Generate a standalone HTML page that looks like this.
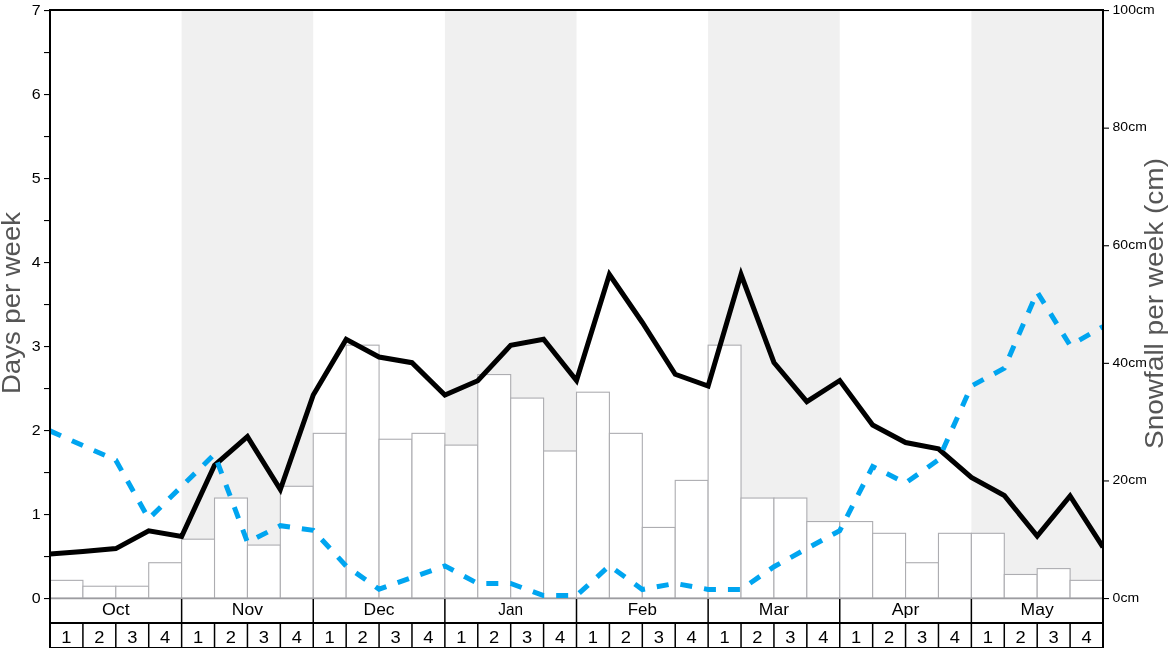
<!DOCTYPE html>
<html><head><meta charset="utf-8"><title>Snow chart</title>
<style>html,body{margin:0;padding:0;background:#fff;overflow:hidden}body{width:1168px;height:648px;font-family:"Liberation Sans",sans-serif}</style></head>
<body>
<svg width="1168" height="648" viewBox="0 0 1168 648" style="display:block;will-change:transform">
<defs><clipPath id="plot"><rect x="50.00" y="10.00" width="1053.00" height="588.00"/></clipPath></defs>
<rect x="0" y="0" width="1168" height="648" fill="#ffffff"/>
<rect x="181.62" y="10.00" width="131.62" height="588.00" fill="#f0f0f0"/>
<rect x="444.88" y="10.00" width="131.62" height="588.00" fill="#f0f0f0"/>
<rect x="708.12" y="10.00" width="131.62" height="588.00" fill="#f0f0f0"/>
<rect x="971.38" y="10.00" width="131.62" height="588.00" fill="#f0f0f0"/>
<rect x="50.00" y="580.36" width="32.91" height="17.64" fill="#ffffff" stroke="#adadb1" stroke-width="1.1"/>
<rect x="82.91" y="586.24" width="32.91" height="11.76" fill="#ffffff" stroke="#adadb1" stroke-width="1.1"/>
<rect x="115.81" y="586.24" width="32.91" height="11.76" fill="#ffffff" stroke="#adadb1" stroke-width="1.1"/>
<rect x="148.72" y="562.72" width="32.91" height="35.28" fill="#ffffff" stroke="#adadb1" stroke-width="1.1"/>
<rect x="181.62" y="539.20" width="32.91" height="58.80" fill="#ffffff" stroke="#adadb1" stroke-width="1.1"/>
<rect x="214.53" y="498.04" width="32.91" height="99.96" fill="#ffffff" stroke="#adadb1" stroke-width="1.1"/>
<rect x="247.44" y="545.08" width="32.91" height="52.92" fill="#ffffff" stroke="#adadb1" stroke-width="1.1"/>
<rect x="280.34" y="486.28" width="32.91" height="111.72" fill="#ffffff" stroke="#adadb1" stroke-width="1.1"/>
<rect x="313.25" y="433.36" width="32.91" height="164.64" fill="#ffffff" stroke="#adadb1" stroke-width="1.1"/>
<rect x="346.16" y="345.16" width="32.91" height="252.84" fill="#ffffff" stroke="#adadb1" stroke-width="1.1"/>
<rect x="379.06" y="439.24" width="32.91" height="158.76" fill="#ffffff" stroke="#adadb1" stroke-width="1.1"/>
<rect x="411.97" y="433.36" width="32.91" height="164.64" fill="#ffffff" stroke="#adadb1" stroke-width="1.1"/>
<rect x="444.88" y="445.12" width="32.91" height="152.88" fill="#ffffff" stroke="#adadb1" stroke-width="1.1"/>
<rect x="477.78" y="374.56" width="32.91" height="223.44" fill="#ffffff" stroke="#adadb1" stroke-width="1.1"/>
<rect x="510.69" y="398.08" width="32.91" height="199.92" fill="#ffffff" stroke="#adadb1" stroke-width="1.1"/>
<rect x="543.59" y="451.00" width="32.91" height="147.00" fill="#ffffff" stroke="#adadb1" stroke-width="1.1"/>
<rect x="576.50" y="392.20" width="32.91" height="205.80" fill="#ffffff" stroke="#adadb1" stroke-width="1.1"/>
<rect x="609.41" y="433.36" width="32.91" height="164.64" fill="#ffffff" stroke="#adadb1" stroke-width="1.1"/>
<rect x="642.31" y="527.44" width="32.91" height="70.56" fill="#ffffff" stroke="#adadb1" stroke-width="1.1"/>
<rect x="675.22" y="480.40" width="32.91" height="117.60" fill="#ffffff" stroke="#adadb1" stroke-width="1.1"/>
<rect x="708.12" y="345.16" width="32.91" height="252.84" fill="#ffffff" stroke="#adadb1" stroke-width="1.1"/>
<rect x="741.03" y="498.04" width="32.91" height="99.96" fill="#ffffff" stroke="#adadb1" stroke-width="1.1"/>
<rect x="773.94" y="498.04" width="32.91" height="99.96" fill="#ffffff" stroke="#adadb1" stroke-width="1.1"/>
<rect x="806.84" y="521.56" width="32.91" height="76.44" fill="#ffffff" stroke="#adadb1" stroke-width="1.1"/>
<rect x="839.75" y="521.56" width="32.91" height="76.44" fill="#ffffff" stroke="#adadb1" stroke-width="1.1"/>
<rect x="872.66" y="533.32" width="32.91" height="64.68" fill="#ffffff" stroke="#adadb1" stroke-width="1.1"/>
<rect x="905.56" y="562.72" width="32.91" height="35.28" fill="#ffffff" stroke="#adadb1" stroke-width="1.1"/>
<rect x="938.47" y="533.32" width="32.91" height="64.68" fill="#ffffff" stroke="#adadb1" stroke-width="1.1"/>
<rect x="971.38" y="533.32" width="32.91" height="64.68" fill="#ffffff" stroke="#adadb1" stroke-width="1.1"/>
<rect x="1004.28" y="574.48" width="32.91" height="23.52" fill="#ffffff" stroke="#adadb1" stroke-width="1.1"/>
<rect x="1037.19" y="568.60" width="32.91" height="29.40" fill="#ffffff" stroke="#adadb1" stroke-width="1.1"/>
<rect x="1070.09" y="580.36" width="32.91" height="17.64" fill="#ffffff" stroke="#adadb1" stroke-width="1.1"/>
<line x1="50.00" y1="598.50" x2="1103.00" y2="598.50" stroke="#9c9ca0" stroke-width="1.4"/>
<g clip-path="url(#plot)"><polyline points="50.00,554.00 82.91,551.40 115.81,548.60 148.72,530.90 181.62,536.50 214.53,465.25 247.44,436.60 280.34,489.60 313.25,395.00 346.16,339.40 379.06,357.00 411.97,362.70 444.88,395.10 477.78,380.75 510.69,345.30 543.59,339.30 576.50,380.60 609.41,274.50 642.31,322.50 675.22,374.25 708.12,386.00 741.03,274.50 773.94,362.50 806.84,401.70 839.75,380.50 872.66,425.00 905.56,442.50 938.47,448.75 971.38,477.50 1004.28,495.50 1037.19,536.00 1070.09,496.00 1103.00,547.25" fill="none" stroke="#000000" stroke-width="5" stroke-linejoin="miter" stroke-miterlimit="10" stroke-linecap="butt"/></g>
<g clip-path="url(#plot)"><polyline points="50.00,430.90 82.91,445.60 115.81,460.20 148.72,518.75 181.62,486.40 214.53,454.20 247.44,542.30 280.34,525.70 313.25,530.30 346.16,566.00 379.06,589.20 411.97,577.50 444.88,565.90 477.78,583.50 510.69,583.50 543.59,595.60 576.50,595.60 609.41,565.80 642.31,589.50 675.22,583.40 708.12,589.40 741.03,589.40 773.94,566.70 806.84,548.60 839.75,530.70 872.66,466.50 905.56,483.00 938.47,459.80 971.38,386.00 1004.28,368.30 1037.19,292.00 1070.09,345.40 1103.00,326.60" fill="none" stroke="#00a5f0" stroke-width="5" stroke-dasharray="12 12" stroke-linejoin="miter" stroke-linecap="butt"/></g>
<rect x="49" y="9" width="2" height="639" fill="#000"/>
<rect x="1102" y="9" width="2" height="639" fill="#000"/>
<rect x="49" y="9" width="1055" height="2" fill="#000"/>
<rect x="44" y="598.00" width="5.5" height="1.1" fill="#000"/>
<text x="31.8" y="603.00" font-family="Liberation Sans, sans-serif" font-size="14.5" textLength="8.9" lengthAdjust="spacingAndGlyphs" fill="#000">0</text>
<rect x="44" y="556.00" width="5.5" height="1.1" fill="#000"/>
<rect x="44" y="514.00" width="5.5" height="1.1" fill="#000"/>
<text x="31.8" y="519.00" font-family="Liberation Sans, sans-serif" font-size="14.5" textLength="8.9" lengthAdjust="spacingAndGlyphs" fill="#000">1</text>
<rect x="44" y="472.00" width="5.5" height="1.1" fill="#000"/>
<rect x="44" y="430.00" width="5.5" height="1.1" fill="#000"/>
<text x="31.8" y="435.00" font-family="Liberation Sans, sans-serif" font-size="14.5" textLength="8.9" lengthAdjust="spacingAndGlyphs" fill="#000">2</text>
<rect x="44" y="388.00" width="5.5" height="1.1" fill="#000"/>
<rect x="44" y="346.00" width="5.5" height="1.1" fill="#000"/>
<text x="31.8" y="351.00" font-family="Liberation Sans, sans-serif" font-size="14.5" textLength="8.9" lengthAdjust="spacingAndGlyphs" fill="#000">3</text>
<rect x="44" y="304.00" width="5.5" height="1.1" fill="#000"/>
<rect x="44" y="262.00" width="5.5" height="1.1" fill="#000"/>
<text x="31.8" y="267.00" font-family="Liberation Sans, sans-serif" font-size="14.5" textLength="8.9" lengthAdjust="spacingAndGlyphs" fill="#000">4</text>
<rect x="44" y="220.00" width="5.5" height="1.1" fill="#000"/>
<rect x="44" y="178.00" width="5.5" height="1.1" fill="#000"/>
<text x="31.8" y="183.00" font-family="Liberation Sans, sans-serif" font-size="14.5" textLength="8.9" lengthAdjust="spacingAndGlyphs" fill="#000">5</text>
<rect x="44" y="136.00" width="5.5" height="1.1" fill="#000"/>
<rect x="44" y="94.00" width="5.5" height="1.1" fill="#000"/>
<text x="31.8" y="99.00" font-family="Liberation Sans, sans-serif" font-size="14.5" textLength="8.9" lengthAdjust="spacingAndGlyphs" fill="#000">6</text>
<rect x="44" y="52.00" width="5.5" height="1.1" fill="#000"/>
<rect x="44" y="10.00" width="5.5" height="1.1" fill="#000"/>
<text x="31.8" y="15.00" font-family="Liberation Sans, sans-serif" font-size="14.5" textLength="8.9" lengthAdjust="spacingAndGlyphs" fill="#000">7</text>
<rect x="1104" y="598.00" width="5" height="1.1" fill="#000"/>
<text x="1112.6" y="601.80" font-family="Liberation Sans, sans-serif" font-size="12.5" textLength="26.5" lengthAdjust="spacingAndGlyphs" fill="#000">0cm</text>
<rect x="1104" y="480.40" width="5" height="1.1" fill="#000"/>
<text x="1112.6" y="484.20" font-family="Liberation Sans, sans-serif" font-size="12.5" textLength="34.2" lengthAdjust="spacingAndGlyphs" fill="#000">20cm</text>
<rect x="1104" y="362.80" width="5" height="1.1" fill="#000"/>
<text x="1112.6" y="366.60" font-family="Liberation Sans, sans-serif" font-size="12.5" textLength="34.2" lengthAdjust="spacingAndGlyphs" fill="#000">40cm</text>
<rect x="1104" y="245.20" width="5" height="1.1" fill="#000"/>
<text x="1112.6" y="249.00" font-family="Liberation Sans, sans-serif" font-size="12.5" textLength="34.2" lengthAdjust="spacingAndGlyphs" fill="#000">60cm</text>
<rect x="1104" y="127.60" width="5" height="1.1" fill="#000"/>
<text x="1112.6" y="131.40" font-family="Liberation Sans, sans-serif" font-size="12.5" textLength="34.2" lengthAdjust="spacingAndGlyphs" fill="#000">80cm</text>
<rect x="1104" y="10.00" width="5" height="1.1" fill="#000"/>
<text x="1112.6" y="13.80" font-family="Liberation Sans, sans-serif" font-size="12.5" textLength="42.0" lengthAdjust="spacingAndGlyphs" fill="#000">100cm</text>
<text transform="translate(19.6,303) rotate(-90)" font-family="Liberation Sans, sans-serif" font-size="25.4" text-anchor="middle" textLength="182" lengthAdjust="spacingAndGlyphs" fill="#555">Days per week</text>
<text transform="translate(1162.8,303.5) rotate(-90)" font-family="Liberation Sans, sans-serif" font-size="25.4" text-anchor="middle" textLength="291" lengthAdjust="spacingAndGlyphs" fill="#555">Snowfall per week (cm)</text>
<rect x="49" y="622" width="1055" height="2" fill="#000"/>
<rect x="49" y="647" width="1055" height="1" fill="#000"/>
<rect x="180.88" y="599" width="1.5" height="24" fill="#000"/>
<rect x="312.50" y="599" width="1.5" height="24" fill="#000"/>
<rect x="444.12" y="599" width="1.5" height="24" fill="#000"/>
<rect x="575.75" y="599" width="1.5" height="24" fill="#000"/>
<rect x="707.38" y="599" width="1.5" height="24" fill="#000"/>
<rect x="839.00" y="599" width="1.5" height="24" fill="#000"/>
<rect x="970.62" y="599" width="1.5" height="24" fill="#000"/>
<rect x="82.16" y="623" width="1.5" height="25" fill="#000"/>
<rect x="115.06" y="623" width="1.5" height="25" fill="#000"/>
<rect x="147.97" y="623" width="1.5" height="25" fill="#000"/>
<rect x="180.88" y="623" width="1.5" height="25" fill="#000"/>
<rect x="213.78" y="623" width="1.5" height="25" fill="#000"/>
<rect x="246.69" y="623" width="1.5" height="25" fill="#000"/>
<rect x="279.59" y="623" width="1.5" height="25" fill="#000"/>
<rect x="312.50" y="623" width="1.5" height="25" fill="#000"/>
<rect x="345.41" y="623" width="1.5" height="25" fill="#000"/>
<rect x="378.31" y="623" width="1.5" height="25" fill="#000"/>
<rect x="411.22" y="623" width="1.5" height="25" fill="#000"/>
<rect x="444.12" y="623" width="1.5" height="25" fill="#000"/>
<rect x="477.03" y="623" width="1.5" height="25" fill="#000"/>
<rect x="509.94" y="623" width="1.5" height="25" fill="#000"/>
<rect x="542.84" y="623" width="1.5" height="25" fill="#000"/>
<rect x="575.75" y="623" width="1.5" height="25" fill="#000"/>
<rect x="608.66" y="623" width="1.5" height="25" fill="#000"/>
<rect x="641.56" y="623" width="1.5" height="25" fill="#000"/>
<rect x="674.47" y="623" width="1.5" height="25" fill="#000"/>
<rect x="707.38" y="623" width="1.5" height="25" fill="#000"/>
<rect x="740.28" y="623" width="1.5" height="25" fill="#000"/>
<rect x="773.19" y="623" width="1.5" height="25" fill="#000"/>
<rect x="806.09" y="623" width="1.5" height="25" fill="#000"/>
<rect x="839.00" y="623" width="1.5" height="25" fill="#000"/>
<rect x="871.91" y="623" width="1.5" height="25" fill="#000"/>
<rect x="904.81" y="623" width="1.5" height="25" fill="#000"/>
<rect x="937.72" y="623" width="1.5" height="25" fill="#000"/>
<rect x="970.62" y="623" width="1.5" height="25" fill="#000"/>
<rect x="1003.53" y="623" width="1.5" height="25" fill="#000"/>
<rect x="1036.44" y="623" width="1.5" height="25" fill="#000"/>
<rect x="1069.34" y="623" width="1.5" height="25" fill="#000"/>
<text x="101.96" y="615" font-family="Liberation Sans, sans-serif" font-size="16.5" textLength="27.7" lengthAdjust="spacingAndGlyphs" fill="#000">Oct</text>
<text x="231.84" y="615" font-family="Liberation Sans, sans-serif" font-size="16.5" textLength="31.2" lengthAdjust="spacingAndGlyphs" fill="#000">Nov</text>
<text x="363.56" y="615" font-family="Liberation Sans, sans-serif" font-size="16.5" textLength="31.0" lengthAdjust="spacingAndGlyphs" fill="#000">Dec</text>
<text x="498.34" y="615" font-family="Liberation Sans, sans-serif" font-size="16.5" textLength="24.7" lengthAdjust="spacingAndGlyphs" fill="#000">Jan</text>
<text x="627.71" y="615" font-family="Liberation Sans, sans-serif" font-size="16.5" textLength="29.2" lengthAdjust="spacingAndGlyphs" fill="#000">Feb</text>
<text x="758.84" y="615" font-family="Liberation Sans, sans-serif" font-size="16.5" textLength="30.2" lengthAdjust="spacingAndGlyphs" fill="#000">Mar</text>
<text x="891.71" y="615" font-family="Liberation Sans, sans-serif" font-size="16.5" textLength="27.7" lengthAdjust="spacingAndGlyphs" fill="#000">Apr</text>
<text x="1020.64" y="615" font-family="Liberation Sans, sans-serif" font-size="16.5" textLength="33.1" lengthAdjust="spacingAndGlyphs" fill="#000">May</text>
<text x="61.35" y="643" font-family="Liberation Sans, sans-serif" font-size="16.5" textLength="10.2" lengthAdjust="spacingAndGlyphs" fill="#000">1</text>
<text x="94.26" y="643" font-family="Liberation Sans, sans-serif" font-size="16.5" textLength="10.2" lengthAdjust="spacingAndGlyphs" fill="#000">2</text>
<text x="127.17" y="643" font-family="Liberation Sans, sans-serif" font-size="16.5" textLength="10.2" lengthAdjust="spacingAndGlyphs" fill="#000">3</text>
<text x="160.07" y="643" font-family="Liberation Sans, sans-serif" font-size="16.5" textLength="10.2" lengthAdjust="spacingAndGlyphs" fill="#000">4</text>
<text x="192.98" y="643" font-family="Liberation Sans, sans-serif" font-size="16.5" textLength="10.2" lengthAdjust="spacingAndGlyphs" fill="#000">1</text>
<text x="225.88" y="643" font-family="Liberation Sans, sans-serif" font-size="16.5" textLength="10.2" lengthAdjust="spacingAndGlyphs" fill="#000">2</text>
<text x="258.79" y="643" font-family="Liberation Sans, sans-serif" font-size="16.5" textLength="10.2" lengthAdjust="spacingAndGlyphs" fill="#000">3</text>
<text x="291.70" y="643" font-family="Liberation Sans, sans-serif" font-size="16.5" textLength="10.2" lengthAdjust="spacingAndGlyphs" fill="#000">4</text>
<text x="324.60" y="643" font-family="Liberation Sans, sans-serif" font-size="16.5" textLength="10.2" lengthAdjust="spacingAndGlyphs" fill="#000">1</text>
<text x="357.51" y="643" font-family="Liberation Sans, sans-serif" font-size="16.5" textLength="10.2" lengthAdjust="spacingAndGlyphs" fill="#000">2</text>
<text x="390.42" y="643" font-family="Liberation Sans, sans-serif" font-size="16.5" textLength="10.2" lengthAdjust="spacingAndGlyphs" fill="#000">3</text>
<text x="423.32" y="643" font-family="Liberation Sans, sans-serif" font-size="16.5" textLength="10.2" lengthAdjust="spacingAndGlyphs" fill="#000">4</text>
<text x="456.23" y="643" font-family="Liberation Sans, sans-serif" font-size="16.5" textLength="10.2" lengthAdjust="spacingAndGlyphs" fill="#000">1</text>
<text x="489.13" y="643" font-family="Liberation Sans, sans-serif" font-size="16.5" textLength="10.2" lengthAdjust="spacingAndGlyphs" fill="#000">2</text>
<text x="522.04" y="643" font-family="Liberation Sans, sans-serif" font-size="16.5" textLength="10.2" lengthAdjust="spacingAndGlyphs" fill="#000">3</text>
<text x="554.95" y="643" font-family="Liberation Sans, sans-serif" font-size="16.5" textLength="10.2" lengthAdjust="spacingAndGlyphs" fill="#000">4</text>
<text x="587.85" y="643" font-family="Liberation Sans, sans-serif" font-size="16.5" textLength="10.2" lengthAdjust="spacingAndGlyphs" fill="#000">1</text>
<text x="620.76" y="643" font-family="Liberation Sans, sans-serif" font-size="16.5" textLength="10.2" lengthAdjust="spacingAndGlyphs" fill="#000">2</text>
<text x="653.67" y="643" font-family="Liberation Sans, sans-serif" font-size="16.5" textLength="10.2" lengthAdjust="spacingAndGlyphs" fill="#000">3</text>
<text x="686.57" y="643" font-family="Liberation Sans, sans-serif" font-size="16.5" textLength="10.2" lengthAdjust="spacingAndGlyphs" fill="#000">4</text>
<text x="719.48" y="643" font-family="Liberation Sans, sans-serif" font-size="16.5" textLength="10.2" lengthAdjust="spacingAndGlyphs" fill="#000">1</text>
<text x="752.38" y="643" font-family="Liberation Sans, sans-serif" font-size="16.5" textLength="10.2" lengthAdjust="spacingAndGlyphs" fill="#000">2</text>
<text x="785.29" y="643" font-family="Liberation Sans, sans-serif" font-size="16.5" textLength="10.2" lengthAdjust="spacingAndGlyphs" fill="#000">3</text>
<text x="818.20" y="643" font-family="Liberation Sans, sans-serif" font-size="16.5" textLength="10.2" lengthAdjust="spacingAndGlyphs" fill="#000">4</text>
<text x="851.10" y="643" font-family="Liberation Sans, sans-serif" font-size="16.5" textLength="10.2" lengthAdjust="spacingAndGlyphs" fill="#000">1</text>
<text x="884.01" y="643" font-family="Liberation Sans, sans-serif" font-size="16.5" textLength="10.2" lengthAdjust="spacingAndGlyphs" fill="#000">2</text>
<text x="916.92" y="643" font-family="Liberation Sans, sans-serif" font-size="16.5" textLength="10.2" lengthAdjust="spacingAndGlyphs" fill="#000">3</text>
<text x="949.82" y="643" font-family="Liberation Sans, sans-serif" font-size="16.5" textLength="10.2" lengthAdjust="spacingAndGlyphs" fill="#000">4</text>
<text x="982.73" y="643" font-family="Liberation Sans, sans-serif" font-size="16.5" textLength="10.2" lengthAdjust="spacingAndGlyphs" fill="#000">1</text>
<text x="1015.63" y="643" font-family="Liberation Sans, sans-serif" font-size="16.5" textLength="10.2" lengthAdjust="spacingAndGlyphs" fill="#000">2</text>
<text x="1048.54" y="643" font-family="Liberation Sans, sans-serif" font-size="16.5" textLength="10.2" lengthAdjust="spacingAndGlyphs" fill="#000">3</text>
<text x="1081.45" y="643" font-family="Liberation Sans, sans-serif" font-size="16.5" textLength="10.2" lengthAdjust="spacingAndGlyphs" fill="#000">4</text>
</svg>
</body></html>
